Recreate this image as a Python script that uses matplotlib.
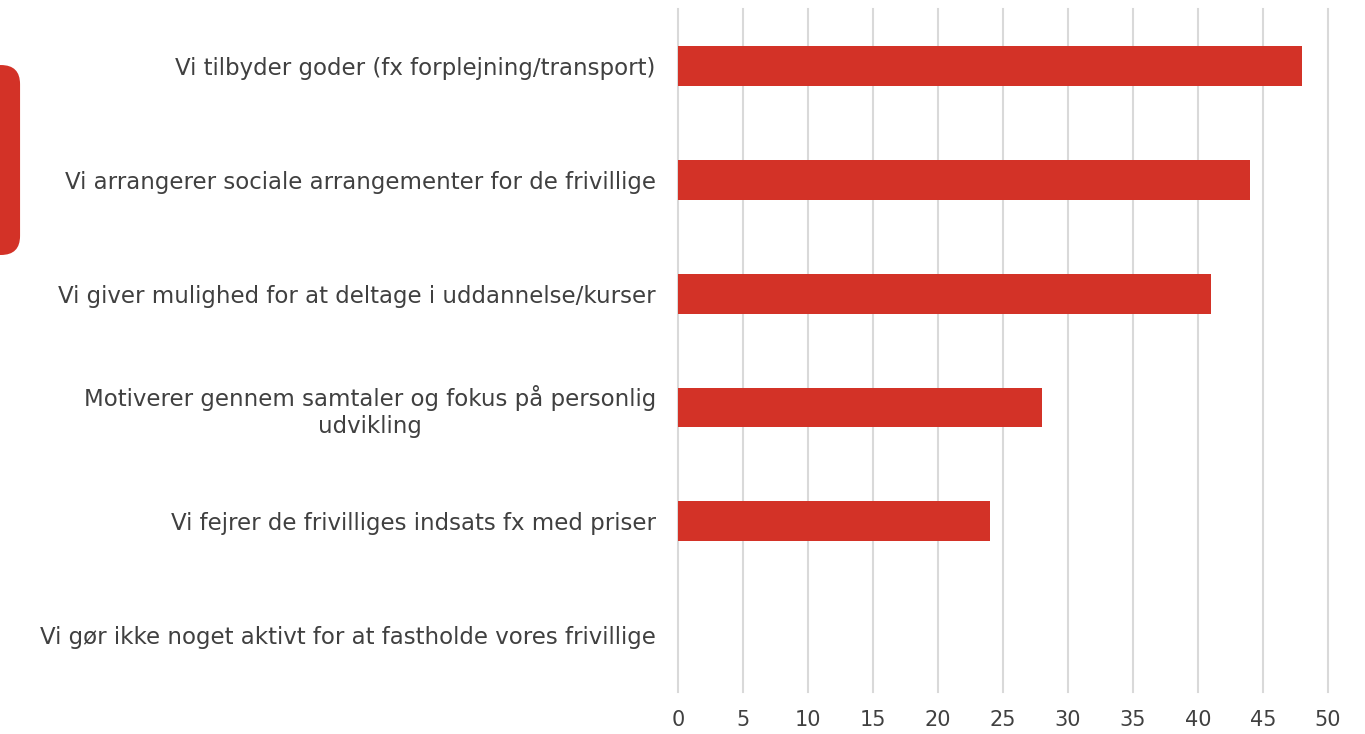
import matplotlib.pyplot as plt
from matplotlib.patches import FancyBboxPatch

categories = [
    "Vi tilbyder goder (fx forplejning/transport)",
    "Vi arrangerer sociale arrangementer for de frivillige",
    "Vi giver mulighed for at deltage i uddannelse/kurser",
    "Motiverer gennem samtaler og fokus på personlig\nudvikling",
    "Vi fejrer de frivilliges indsats fx med priser",
    "Vi gør ikke noget aktivt for at fastholde vores frivillige",
]
values = [48, 44, 41, 28, 24, 0]
ticks = list(range(0, 55, 5))

red = "#d33227"
text_col = "#404040"

fig = plt.figure(figsize=(13.65, 7.34), dpi=100)
ax = fig.add_axes([0.4967, 0.0572, 0.4762, 0.9305])

ax.barh(range(len(categories)), values, height=0.35, color=red, zorder=3)
ax.set_ylim(5.5, -0.5)
ax.set_xlim(0, 50)
ax.set_xticks(ticks)
ax.set_yticks(range(len(categories)))
ax.set_yticklabels(categories, fontsize=16.5, color=text_col, linespacing=1.2)
for lab in ax.get_yticklabels():
    lab.set_multialignment("center")
ax.tick_params(axis="x", labelsize=15, labelcolor=text_col, length=0, pad=13)
ax.tick_params(axis="y", length=0, pad=16)
ax.grid(axis="x", color="#d9d9d9", linewidth=1.5, zorder=0)
for gl in ax.get_xgridlines():
    gl.set_clip_on(False)
for s in ax.spines.values():
    s.set_visible(False)

# decorative rounded red shape at left edge
fig.patches.append(FancyBboxPatch((-0.03, 0.6526), 0.0447, 0.2588,
                                  boxstyle="round,pad=0,rounding_size=0.014",
                                  transform=fig.transFigure, facecolor=red,
                                  edgecolor="none", mutation_aspect=13.65 / 7.34))

fig.savefig("out.png", dpi=100)
